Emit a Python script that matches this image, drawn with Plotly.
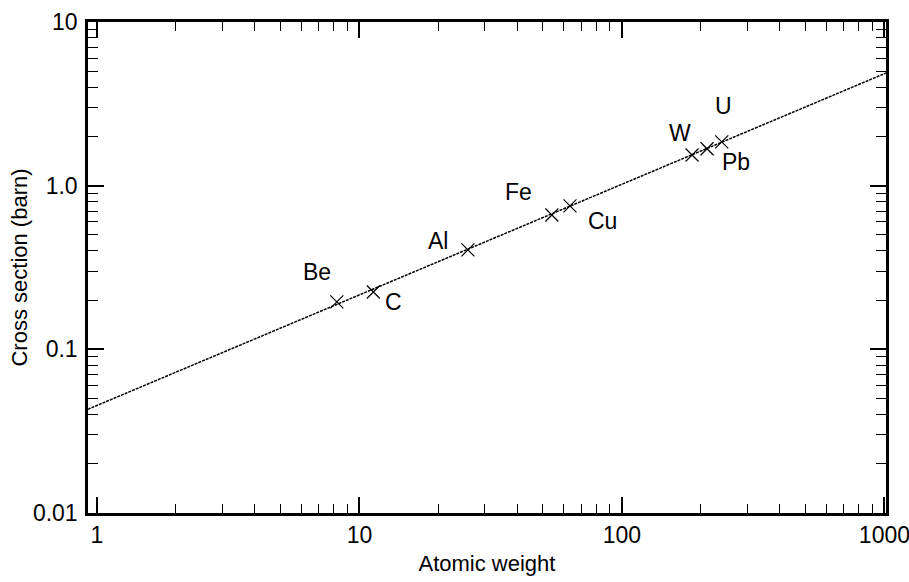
import math
import plotly.graph_objects as go

# Fit line endpoints (atomic weight, cross section in barn)
line_x = [0.923, 1014]
line_y = [0.043, 4.88]

# Measured elements
elements = ["Be", "C", "Al", "Fe", "Cu", "W", "Pb", "U"]
weights = [8.2, 11.3, 25.9, 54.1, 63.4, 185, 211, 240]
sections = [0.195, 0.224, 0.405, 0.662, 0.752, 1.54, 1.68, 1.85]
# label offsets in pixels (x right, y up)
label_dx = [-20, 20, -30, -33, 33, -12, 29, 2]
label_dy = [30, -10, 9, 23, -15, 22, -13, 36]

x_tickvals = [1, 10, 100, 1000]
x_ticktext = ["1", "10", "100", "1000"]
y_tickvals = [0.01, 0.1, 1, 10]
y_ticktext = ["0.01", "0.1", "1.0", "10"]
minor_digits = [2, 3, 4, 5, 6, 7, 8, 9]
x_minor = [d * 10 ** e for e in range(0, 3) for d in minor_digits]
y_minor = [d * 10 ** e for e in range(-2, 1) for d in minor_digits]

FONT = "Liberation Sans, Arial, Helvetica, sans-serif"

fig = go.Figure()
fig.add_trace(go.Scatter(
    x=line_x, y=line_y, mode="lines",
    line=dict(color="black", width=1.5, dash="3px,1px"),
    showlegend=False, hoverinfo="skip"))
fig.add_trace(go.Scatter(
    x=weights, y=sections, mode="markers",
    marker=dict(symbol="x-thin", size=13, color="black",
                line=dict(color="black", width=1.2)),
    showlegend=False))

for name, xv, yv, dx, dy in zip(elements, weights, sections, label_dx, label_dy):
    fig.add_annotation(x=math.log10(xv), y=math.log10(yv), xref="x", yref="y",
                       text=name, showarrow=False, xshift=dx, yshift=dy,
                       font=dict(family=FONT, size=23, color="black"))

axis_common = dict(
    type="log", showgrid=False, zeroline=False,
    showline=True, linecolor="black", linewidth=2.5, mirror="ticks",
    ticks="inside", ticklen=16, tickwidth=1.5, tickcolor="black",
    tickfont=dict(family=FONT, size=23, color="black"),
    ticklabeloverflow="allow",
)

fig.update_xaxes(**axis_common, range=[-0.034, 3.006],
                 tickvals=x_tickvals, ticktext=x_ticktext,
                 minor=dict(ticks="inside", ticklen=9, tickwidth=1.2,
                            tickcolor="black", showgrid=False, tickvals=x_minor),
                 title=dict(text="Atomic weight",
                            font=dict(family=FONT, size=22, color="black"), standoff=9))
fig.update_yaxes(**axis_common, range=[-2, 1],
                 tickvals=y_tickvals, ticktext=y_ticktext, ticklabelstandoff=3,
                 minor=dict(ticks="inside", ticklen=10, tickwidth=1.2,
                            tickcolor="black", showgrid=False, tickvals=y_minor),
                 title=dict(text="Cross section (barn)",
                            font=dict(family=FONT, size=22, color="black"), standoff=0))

fig.update_layout(
    width=909, height=582,
    margin=dict(l=88, r=23, t=22, b=69, autoexpand=False),
    paper_bgcolor="white", plot_bgcolor="white",
)

fig.write_html("out.html")
